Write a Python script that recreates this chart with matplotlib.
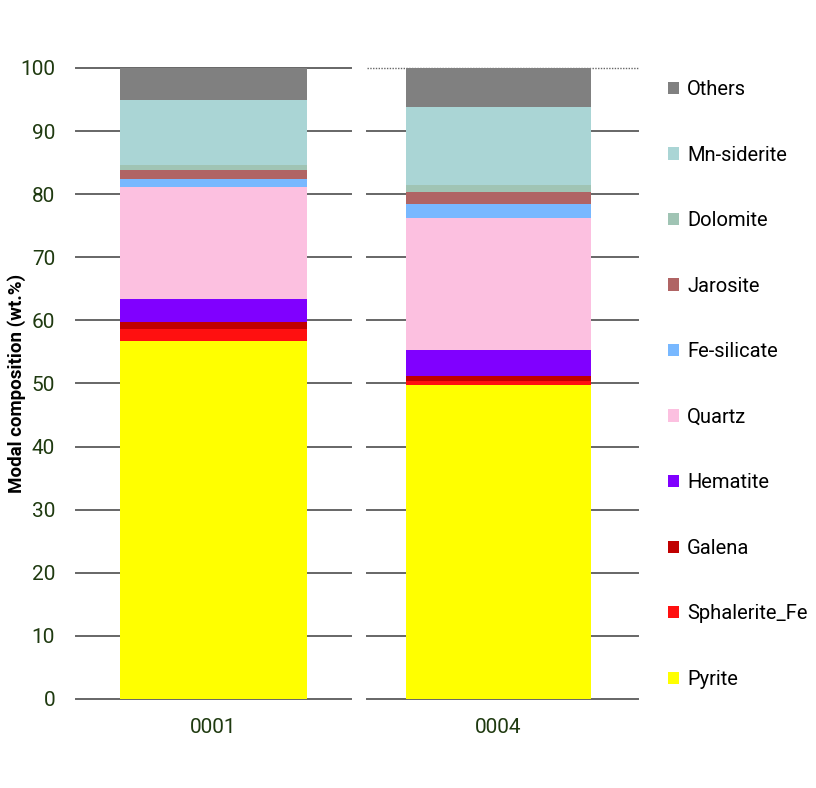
import matplotlib
matplotlib.use("Agg")
import matplotlib.pyplot as plt
from matplotlib.patches import Patch

plt.rcParams["font.family"] = ["Roboto", "DejaVu Sans"]

SAMPLES = ["0001", "0004"]
MINERALS = ["Pyrite", "Sphalerite_Fe", "Galena", "Hematite", "Quartz",
            "Fe-silicate", "Jarosite", "Dolomite", "Mn-siderite", "Others"]
COLORS = ["#ffff00", "#ff1010", "#c00000", "#8000ff", "#fcc0e0",
          "#78b8ff", "#b06464", "#a0c4b4", "#aad5d5", "#808080"]

# wt.% per mineral, one list per sample
S0001 = [56.8, 1.8, 1.2, 3.6, 17.7, 1.3, 1.4, 0.8, 10.4, 5.0]
S0004 = [49.7, 0.7, 0.8, 4.1, 21.0, 2.1, 2.0, 1.1, 12.3, 6.2]

TICK_COLOR = "#1f3a10"
GRID_COLOR = "#666666"

fig = plt.figure(figsize=(8.16, 7.88), dpi=100)
ax1 = fig.add_axes([76 / 816, 1 - 699 / 788, 275 / 816, 631 / 788])
ax2 = fig.add_axes([367 / 816, 1 - 699 / 788, 271 / 816, 631 / 788])

for ax, name, values, xpos in [(ax1, SAMPLES[0], S0001, 0.0),
                               (ax2, SAMPLES[1], S0004, -0.015)]:
    bottom = 0
    for mineral, value, color in zip(MINERALS, values, COLORS):
        ax.bar(xpos, value, width=0.68, bottom=bottom, color=color,
               label=mineral, zorder=2)
        bottom += value

    ax.set_xlim(-0.5, 0.5)
    ax.set_ylim(0, 100)
    ax.set_yticks(range(0, 101, 10))
    ax.set_xticks([xpos])
    ax.set_xticklabels([name])
    for s in ax.spines.values():
        s.set_visible(False)
    ax.tick_params(axis="both", length=0, labelsize=15, colors=TICK_COLOR)
    ax.tick_params(axis="x", pad=14)
    ax.tick_params(axis="y", pad=15)
    for y in range(0, 100, 10):
        ax.axhline(y, color=GRID_COLOR, linewidth=1.4, zorder=1,
                   clip_on=False)

ax1.axhline(100, color=GRID_COLOR, linewidth=1.4, zorder=1, clip_on=False)
ax2.axhline(100, color=GRID_COLOR, linewidth=1.0, linestyle=(0, (1, 1)),
            zorder=1, clip_on=False)
ax2.tick_params(axis="y", labelleft=False)

ax1.set_ylabel("Modal composition (wt.%)", fontsize=13.5, fontweight="bold",
               color="black")
ax1.yaxis.set_label_coords(-0.18, 0.5)

handles = [Patch(facecolor=c, label=m) for m, c in zip(MINERALS, COLORS)]
fig.legend(handles=handles[::-1], loc="upper left",
           bbox_to_anchor=(660 / 816, 1 - 72 / 788), frameon=False,
           fontsize=14.5, handlelength=0.55, handleheight=0.55,
           handletextpad=0.4, labelspacing=2.31, borderaxespad=0)

fig.savefig("out.png", dpi=100, facecolor="white")
